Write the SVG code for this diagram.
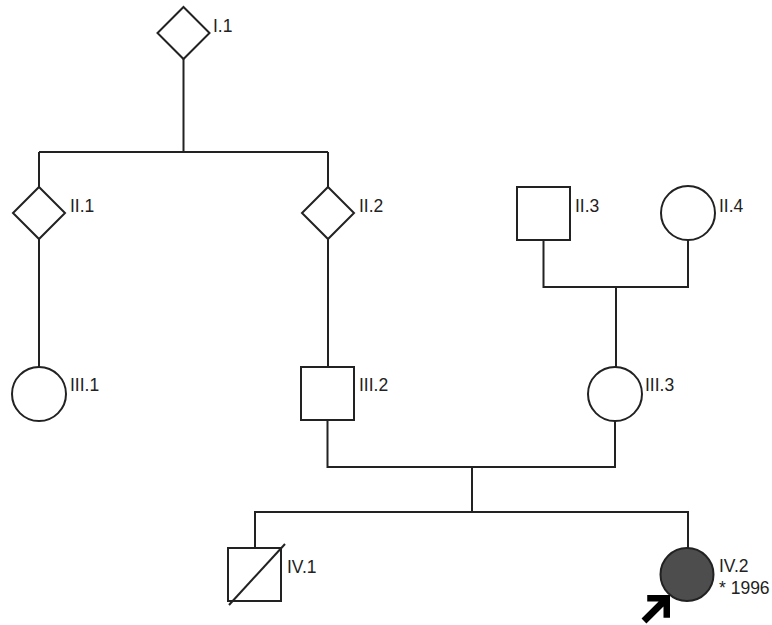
<svg xmlns="http://www.w3.org/2000/svg" width="772" height="625" viewBox="0 0 772 625">
<style>
.s{fill:#fff;stroke:#222;stroke-width:2}
.l{fill:none;stroke:#222;stroke-width:2}
.t{font-family:"Liberation Sans",Arial,sans-serif;font-size:17.5px;fill:#222}
</style>
<rect width="772" height="625" fill="#fff"/>
<g id="connectors" class="l">
<path d="M183.5 59V152M39 152H328M39 152V187M328 152V187"/>
<path d="M39 239V367"/>
<path d="M328 239V367"/>
<path d="M543.5 240V287H688V240M616 287V367"/>
<path d="M327.5 420V467H615V421M472 467V512"/>
<path d="M255 548V512H688V548"/>
</g>
<g id="I1"><polygon class="s" points="183.5,7 209.5,33 183.5,59 157.5,33"/><text class="t" x="213" y="32">I.1</text></g>
<g id="II1"><polygon class="s" points="39,187 65,213 39,239 13,213"/><text class="t" x="70" y="212">II.1</text></g>
<g id="II2"><polygon class="s" points="328,187 354,213 328,239 302,213"/><text class="t" x="359" y="212">II.2</text></g>
<g id="II3"><rect class="s" x="517" y="187" width="53" height="53"/><text class="t" x="575" y="212">II.3</text></g>
<g id="II4"><circle class="s" cx="688" cy="213" r="27"/><text class="t" x="719" y="212">II.4</text></g>
<g id="III1"><circle class="s" cx="39" cy="394" r="27"/><text class="t" x="70" y="391">III.1</text></g>
<g id="III2"><rect class="s" x="301" y="367" width="53" height="53"/><text class="t" x="359" y="391">III.2</text></g>
<g id="III3"><circle class="s" cx="615" cy="394" r="27"/><text class="t" x="645" y="391">III.3</text></g>
<g id="IV1"><rect class="s" x="228" y="548" width="53" height="53"/><path class="l" d="M285 544L229 605"/><text class="t" x="287" y="573">IV.1</text></g>
<g id="IV2"><circle cx="687" cy="574.5" r="26.5" fill="#4d4d4d" stroke="#222" stroke-width="2"/><text class="t" x="719" y="572">IV.2</text><text class="t" x="719" y="594">* 1996</text>
<polygon fill="#000" transform="translate(670,595) rotate(-45) scale(1.15)" points="0,0 -14,-14 -18,-10 -11,-3 -32,-3 -32,3 -11,3 -18,10 -14,14"/></g>
</svg>
